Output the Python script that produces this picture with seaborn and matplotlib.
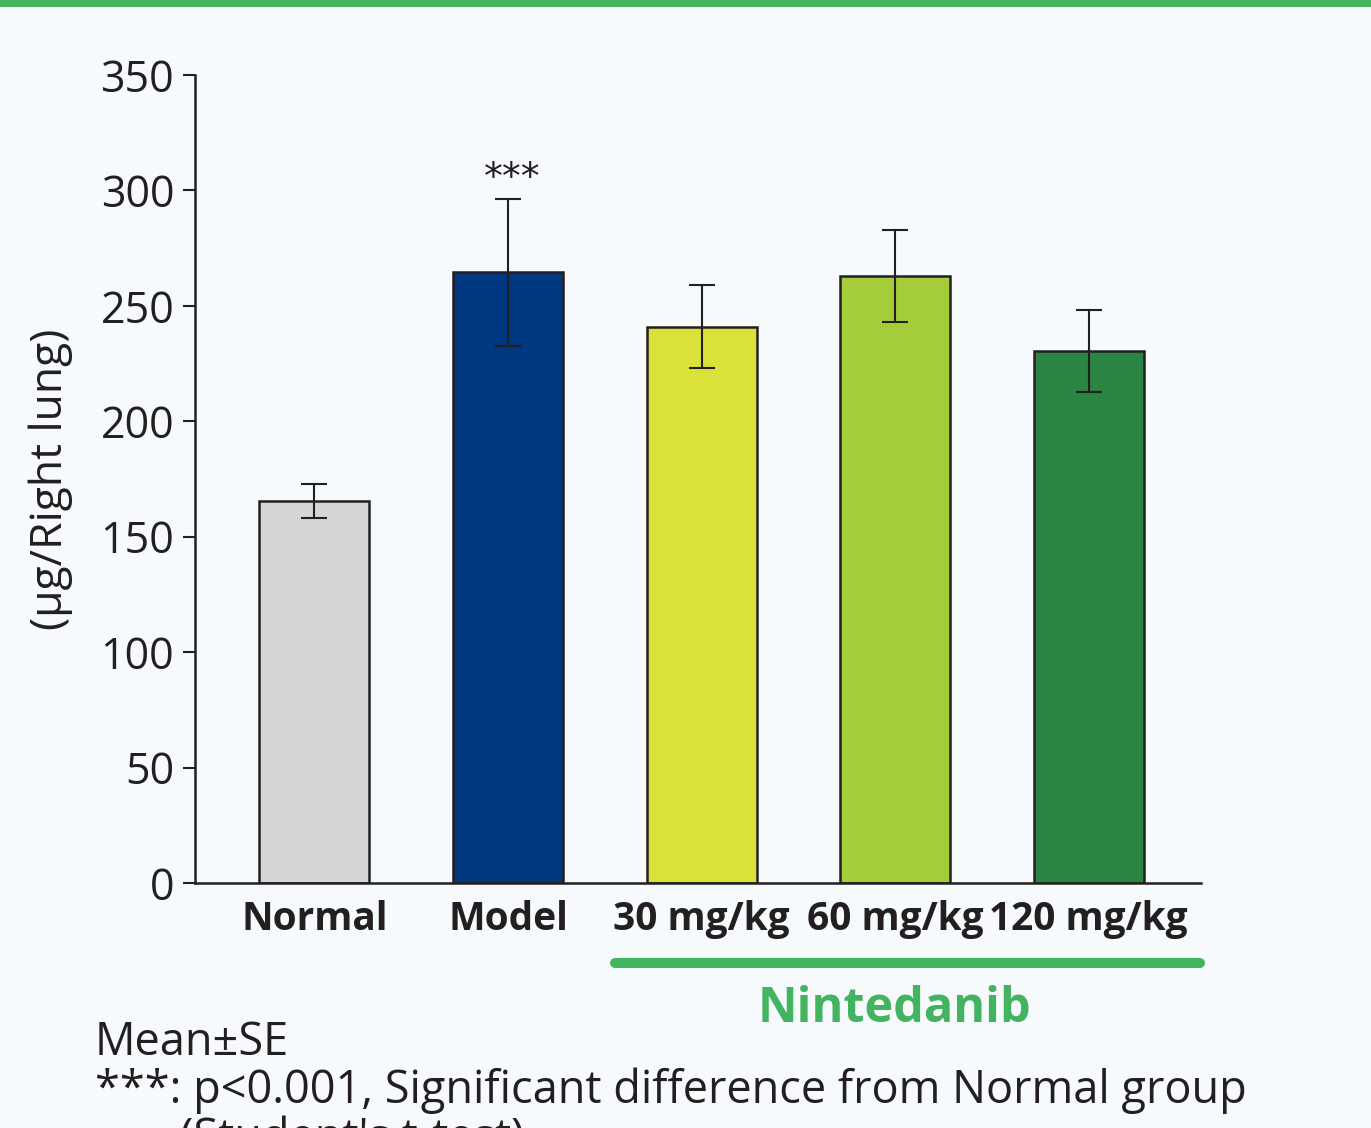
import matplotlib
matplotlib.use('Agg')
import matplotlib.pyplot as plt
import seaborn as sns
import numpy as np
from matplotlib.lines import Line2D

# data
groups = ["Normal", "Model", "30 mg/kg", "60 mg/kg", "120 mg/kg"]
means = [165.5, 264.5, 241.0, 263.0, 230.5]
se = [7.5, 32.0, 18.0, 20.0, 17.8]
colors = ["#d5d5d5", "#003882", "#dae23a", "#a5cd3a", "#2a8442"]
yticks = [0, 50, 100, 150, 200, 250, 300, 350]

BG = "#f7fafd"
GREEN = "#42b35e"
INK = "#231f20"

sns.set_style("ticks")
plt.rcParams['font.family'] = ['Open Sans', 'DejaVu Sans']

fig = plt.figure(figsize=(13.71, 11.28), dpi=100, facecolor=BG)
ax = fig.add_axes([195 / 1371, 1 - 883 / 1128, (1201 - 195) / 1371, (883 - 75) / 1128])
ax.set_facecolor(BG)

sns.barplot(x=groups, y=means, hue=groups, palette=colors, width=0.568,
            saturation=1, edgecolor=INK, linewidth=1.8, legend=False, ax=ax)
ax.errorbar(x=np.arange(len(groups)), y=means, yerr=se, fmt='none',
            ecolor=INK, elinewidth=1.5, capsize=9.5, capthick=1.5, zorder=5)

ax.annotate("***", xy=(1, means[1] + se[1]), xytext=(3, 7),
            textcoords='offset points', ha='center', va='baseline',
            fontsize=27, color=INK, family=['DejaVu Sans'])

ax.set_xlim(-0.617, 4.58)
ax.set_ylim(0, 350)
ax.set_yticks(yticks)
ax.set_yticklabels([str(t) for t in yticks])
ax.set_ylabel("(μg/Right lung)", fontsize=32, color=INK, labelpad=20)

for s in ["top", "right"]:
    ax.spines[s].set_visible(False)
for s in ["left", "bottom"]:
    ax.spines[s].set_linewidth(1.8)
    ax.spines[s].set_color(INK)

ax.tick_params(axis='y', direction='out', length=9, width=1.5, color=INK,
               labelsize=31, labelcolor=INK, pad=6)
ax.tick_params(axis='x', length=0, pad=12, labelsize=28, labelcolor=INK)
for lbl in ax.get_xticklabels():
    lbl.set_fontweight('bold')

# Nintedanib group bracket
fig.add_artist(Line2D([615 / 1371, 1200 / 1371], [1 - 963 / 1128] * 2,
                      color=GREEN, lw=7.2, solid_capstyle='round'))
fig.text(894 / 1371, 1 - 1009 / 1128, "Nintedanib", color=GREEN, fontsize=35,
         fontweight='bold', ha='center', va='center')

# top band
fig.add_artist(Line2D([0, 1], [1 - 3 / 1128] * 2, color=GREEN, lw=5))

# footnotes
fig.text(95 / 1371, 1 - 1055 / 1128, "Mean±SE", fontsize=32.5, color=INK,
         va='baseline', ha='left')
fig.text(95 / 1371, 1 - 1103 / 1128,
         "***: p<0.001, Significant difference from Normal group",
         fontsize=32.5, color=INK, va='baseline', ha='left')
fig.text(180 / 1371, 1 - 1151 / 1128, "(Student's t-test)", fontsize=32.5,
         color=INK, va='baseline', ha='left')

fig.savefig("out.png", dpi=100, facecolor=BG)
